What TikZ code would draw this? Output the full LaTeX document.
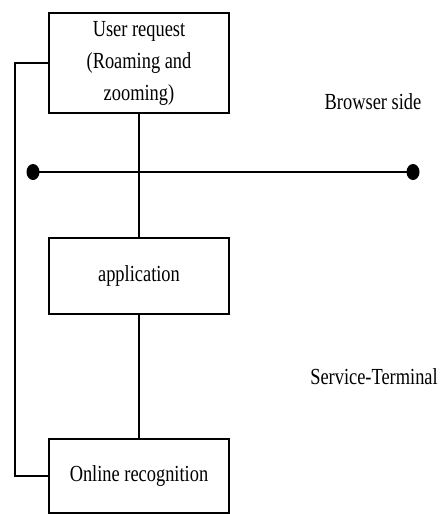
\documentclass[tikz,border=0pt]{standalone}
\usepackage{fontspec}
\setmainfont{Liberation Serif}[FakeStretch=0.8]
\usetikzlibrary{calc}
\tikzset{
  blockbox/.style={draw, line width=2.6pt, fill=white, minimum width=180pt, inner sep=0pt, align=center, font=\fontsize{23}{32}\selectfont},
  sidelabel/.style={inner sep=0pt, font=\fontsize{23}{32}\selectfont},
  wire/.style={line width=2.2pt}
}

\begin{document}
\begin{tikzpicture}[x=1pt, y=-1pt]
			%%%%% START %%%%%
			\useasboundingbox (0, 0) rectangle (442, 514);
			
			\node[blockbox, minimum height=100pt] (user) at (139, 63) {User request\\(Roaming and\\zooming)};
			\node[blockbox, minimum height=76pt] (app) at (139, 276) {application};
			\node[blockbox, minimum height=74pt] (online) at (139, 476) {Online recognition};
			
			\node[sidelabel] (browser) at (373, 102) {Browser side};
			\node[sidelabel] (service) at (374, 377) {Service-Terminal};
			
			\coordinate (busl) at (33, 172);
			\coordinate (busr) at (413, 172);
			
			\draw[wire] (user.south) -- (app.north);
			\draw[wire] (app.south) -- (online.north);
			\draw[wire] (user.west) -- ++(-33, 0) |- (online.west);
			
			\draw[wire] (busl) -- (busr);
			\fill (busl) ellipse (6.5 and 8);
			\fill (busr) ellipse (6.5 and 8);
			
			%%%%% END %%%%%
\end{tikzpicture}
\end{document}
